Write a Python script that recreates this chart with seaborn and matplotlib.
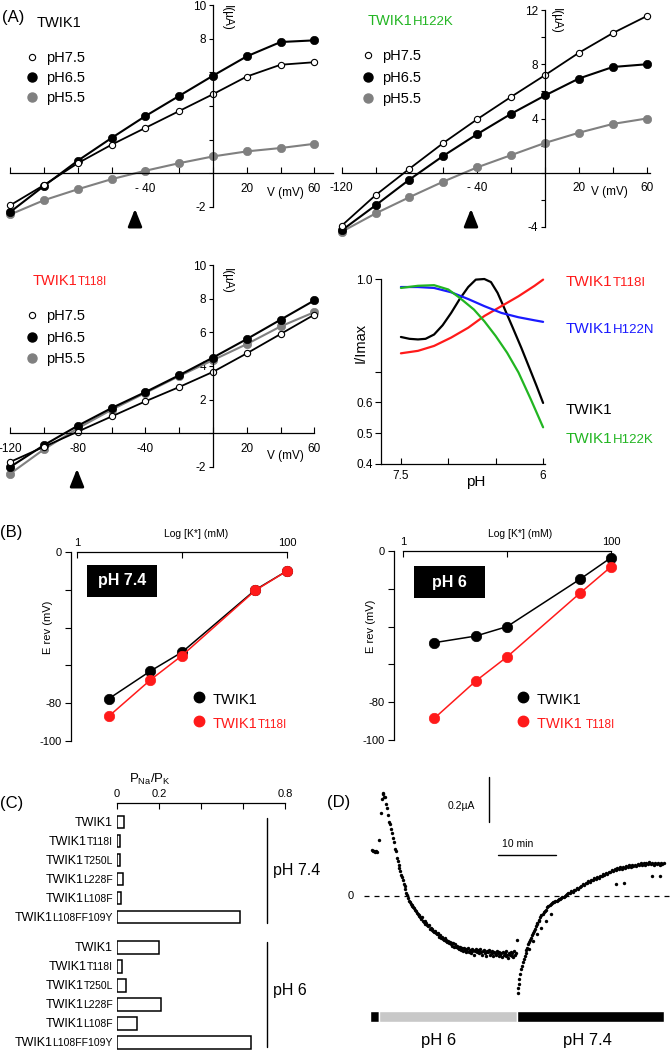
import numpy as np
import matplotlib
matplotlib.use('Agg')
import matplotlib.pyplot as plt
import seaborn as sns
from matplotlib.lines import Line2D
from matplotlib.patches import Rectangle, FancyArrowPatch
from matplotlib.ticker import NullLocator

sns.set_style('ticks', {'axes.edgecolor': 'black', 'text.color': 'black',
                        'xtick.color': 'black', 'ytick.color': 'black',
                        'axes.labelcolor': 'black'})
plt.rcParams['font.family'] = ['Liberation Sans', 'DejaVu Sans']
plt.rcParams['mathtext.fontset'] = 'custom'
plt.rcParams['mathtext.rm'] = 'Liberation Sans'
plt.rcParams['axes.linewidth'] = 0.9

GREY = '#808080'
RED = '#ff1a1a'
BLUE = '#1a1aff'
GREEN = '#22b522'

# ---- panel A : I/V curves (uA) ----
volt = [-120, -100, -80, -60, -40, -20, 0, 20, 40, 60]

wt_75 = [-1.9, -0.7, 0.6, 1.7, 2.7, 3.7, 4.7, 5.75, 6.45, 6.6]
wt_65 = [-2.3, -0.75, 0.75, 2.1, 3.4, 4.6, 5.8, 6.95, 7.8, 7.9]
wt_55 = [-2.45, -1.6, -0.95, -0.35, 0.15, 0.6, 1.0, 1.3, 1.5, 1.75]

hk_75 = [-3.9, -1.65, 0.3, 2.2, 3.95, 5.6, 7.2, 8.85, 10.3, 11.55]
hk_65 = [-4.25, -2.4, -0.5, 1.25, 2.85, 4.35, 5.7, 6.95, 7.8, 8.0]
hk_55 = [-4.35, -3.0, -1.8, -0.65, 0.4, 1.3, 2.2, 2.95, 3.6, 4.0]

ti_75 = [-1.7, -0.8, 0.1, 1.0, 1.9, 2.75, 3.65, 4.75, 5.9, 7.05]
ti_65 = [-2.0, -0.7, 0.45, 1.5, 2.45, 3.45, 4.5, 5.6, 6.75, 7.9]
ti_55 = [-2.4, -0.95, 0.3, 1.4, 2.4, 3.4, 4.35, 5.3, 6.35, 7.2]

# ---- panel A : I/Imax vs pH ----
ph_wt = [7.5, 7.41, 7.32, 7.24, 7.15, 7.06, 6.97, 6.88, 6.79, 6.71, 6.62, 6.55,
         6.48, 6.41, 6.32, 6.23, 6.14, 6.07, 6.0]
imax_wt = [0.812, 0.806, 0.804, 0.806, 0.82, 0.85, 0.89, 0.935, 0.974, 0.998, 1.0,
           0.99, 0.955, 0.906, 0.842, 0.777, 0.708, 0.654, 0.598]
ph_grid = [7.5, 7.32, 7.15, 6.97, 6.79, 6.62, 6.44, 6.26, 6.09, 6.0]
imax_t118i = [0.759, 0.767, 0.783, 0.81, 0.842, 0.88, 0.912, 0.944, 0.978, 0.998]
imax_h122n = [0.974, 0.974, 0.971, 0.957, 0.935, 0.912, 0.89, 0.876, 0.866, 0.861]
ph_hk = [7.5, 7.32, 7.15, 7.0, 6.88, 6.73, 6.62, 6.5, 6.38, 6.26, 6.13, 6.0]
imax_h122k = [0.971, 0.978, 0.98, 0.966, 0.939, 0.901, 0.863, 0.815, 0.761, 0.697, 0.61, 0.519]

# ---- panel B : reversal potential vs [K+] ----
k_conc = [2, 5, 10, 50, 100]
erev74_wt = [-77.7, -63, -53, -20, -10]
erev74_ti = [-87, -67.7, -54.8, -20.3, -10]
erev6_wt = [-48.5, -45, -40, -15, -3.5]
erev6_ti = [-88.5, -68.8, -56, -22.4, -8.3]

# ---- panel C : PNa/PK ----
mutants = [('TWIK1', ''), ('TWIK1', 'T118I'), ('TWIK1', 'T250L'), ('TWIK1', 'L228F'),
           ('TWIK1', 'L108F'), ('TWIK1', 'L108FF109Y')]
pnapk_74 = [0.032, 0.013, 0.013, 0.029, 0.02, 0.588]
pnapk_6 = [0.2, 0.022, 0.045, 0.21, 0.095, 0.64]

# ---- panel D : current trace (min, uA) ----
trace_t = ([0.1, 0.3, 0.5, 0.7, 0.9, 1.1, 1.4, 1.7, 1.9, 2.0,
            2.1, 2.2, 2.4, 2.6, 2.8, 2.95, 3.1, 3.3, 3.45, 3.6,
            3.75, 3.9, 4.1, 4.3, 4.45, 4.6, 4.75, 4.9, 5.05, 5.2,
            5.35, 5.5, 5.65, 5.8, 5.95, 6.1, 6.25, 6.4, 6.55, 6.7,
            6.85, 7.0, 7.15, 7.3, 7.45, 7.6, 7.75, 7.9, 8.05, 8.2,
            8.35, 8.5, 8.65, 8.8, 8.95, 9.1, 9.25, 9.4, 9.55, 9.7,
            9.85, 10.0, 10.15, 10.3, 10.45, 10.6, 10.75, 10.9, 11.05, 11.2,
            11.35, 11.5, 11.65, 11.8, 11.95, 12.1, 12.25, 12.4, 12.55, 12.7,
            12.85, 13.0, 13.15, 13.3, 13.45, 13.6, 13.75, 13.9, 14.05, 14.2,
            14.35, 14.5, 14.65, 14.8, 14.95, 15.1, 15.25, 15.4, 15.55, 15.7]
           + [15.85, 16.0, 16.15, 16.3, 16.45, 16.6, 16.75, 16.9, 17.05, 17.2,
              17.35, 17.5, 17.65, 17.8, 17.95, 18.1, 18.25, 18.4, 18.55, 18.7,
              18.85, 19.0, 19.15, 19.3, 19.45, 19.6, 19.75, 19.9, 20.05, 20.2,
              20.35, 20.5, 20.65, 20.8, 20.95, 21.1, 21.25, 21.4, 21.55, 21.7,
              21.85, 22.0, 22.15, 22.3, 22.45, 22.6, 22.75, 22.9, 23.05, 23.2,
              23.35, 23.5, 23.65, 23.8, 23.95, 24.1, 24.25, 24.4, 24.55, 24.7,
              24.85, 25.0]
           + [25.2, 25.3, 25.4, 25.5, 25.6, 25.7, 25.85, 26.0, 26.15, 26.3,
              26.5, 26.65, 26.8, 26.95, 27.1, 27.3, 27.45, 27.6, 27.75, 27.9,
              28.1, 28.25, 28.4, 28.55, 28.7, 28.9, 29.05, 29.2, 29.4, 29.6,
              29.8, 30.0, 30.2, 30.4, 30.6, 30.8, 31.0, 31.2, 31.4, 31.6,
              31.8, 32.0, 32.2, 32.4, 32.6, 32.8, 33.0, 33.2, 33.4, 33.6,
              33.8, 34.0, 27.3, 27.9, 28.6, 29.3, 30.1, 31.0]
           + [34.25, 34.5, 34.75, 35.0, 35.25, 35.5, 35.75, 36.0, 36.25, 36.5,
              36.75, 37.0, 37.25, 37.5, 37.75, 38.0, 38.25, 38.5, 38.75, 39.0,
              39.25, 39.5, 39.75, 40.0, 40.25, 40.5, 40.75, 41.0, 41.25, 41.5,
              41.75, 42.0, 42.25, 42.5, 42.75, 43.0, 43.25, 43.5, 43.75, 44.0,
              44.25, 44.5, 44.75, 45.0, 45.25, 45.5, 45.75, 46.0, 46.25, 46.5,
              46.75, 47.0, 47.25, 47.5, 47.75, 48.0, 48.25, 48.5, 48.75, 49.0,
              49.25, 49.5, 49.75, 50.0, 50.25, 50.5, 42.3, 43.7, 48.5, 49.9])
trace_i = ([0.205, 0.198, 0.202, 0.195, 0.2, 0.197, 0.25, 0.37, 0.43, 0.46,
            0.455, 0.44, 0.44, 0.41, 0.39, 0.36, 0.33, 0.32, 0.3, 0.28,
            0.26, 0.24, 0.21, 0.2, 0.17, 0.155, 0.14, 0.125, 0.11, 0.095,
            0.085, 0.07, 0.055, 0.045, 0.03, 0.015, 0.005, -0.01, -0.02, -0.025,
            -0.035, -0.04, -0.045, -0.05, -0.055, -0.06, -0.065, -0.075, -0.08, -0.085,
            -0.09, -0.095, -0.1, -0.095, -0.11, -0.115, -0.11, -0.125, -0.12, -0.13,
            -0.135, -0.13, -0.145, -0.14, -0.15, -0.145, -0.155, -0.16, -0.155, -0.165,
            -0.17, -0.165, -0.175, -0.18, -0.175, -0.185, -0.18, -0.19, -0.195, -0.185,
            -0.2, -0.195, -0.205, -0.2, -0.21, -0.205, -0.215, -0.21, -0.22, -0.21,
            -0.225, -0.215, -0.225, -0.22, -0.23, -0.225, -0.235, -0.225, -0.24, -0.23]
           + [-0.245, -0.23, -0.24, -0.25, -0.235, -0.245, -0.23, -0.25, -0.24, -0.255,
              -0.235, -0.245, -0.24, -0.26, -0.245, -0.235, -0.25, -0.24, -0.255, -0.245,
              -0.235, -0.25, -0.26, -0.245, -0.24, -0.255, -0.25, -0.265, -0.245, -0.25,
              -0.24, -0.26, -0.25, -0.255, -0.245, -0.265, -0.25, -0.255, -0.26, -0.245,
              -0.255, -0.265, -0.25, -0.26, -0.255, -0.27, -0.25, -0.26, -0.255, -0.265,
              -0.245, -0.26, -0.275, -0.255, -0.26, -0.25, -0.265, -0.255, -0.27, -0.245,
              -0.26, -0.255]
           + [-0.195, -0.43, -0.41, -0.39, -0.37, -0.345, -0.325, -0.31, -0.295, -0.28,
              -0.265, -0.255, -0.24, -0.23, -0.215, -0.205, -0.195, -0.185, -0.175, -0.165,
              -0.155, -0.145, -0.135, -0.125, -0.12, -0.11, -0.105, -0.095, -0.085, -0.08,
              -0.07, -0.065, -0.06, -0.05, -0.045, -0.04, -0.035, -0.03, -0.028, -0.025,
              -0.022, -0.02, -0.018, -0.015, -0.012, -0.008, -0.006, -0.003, 0.0, 0.004,
              0.008, 0.012, -0.235, -0.2, -0.17, -0.14, -0.11, -0.08]
           + [0.015, 0.022, 0.018, 0.028, 0.025, 0.035, 0.03, 0.042, 0.045, 0.052,
              0.05, 0.06, 0.058, 0.066, 0.062, 0.072, 0.07, 0.078, 0.075, 0.085,
              0.082, 0.09, 0.088, 0.097, 0.094, 0.102, 0.1, 0.108, 0.105, 0.114,
              0.11, 0.12, 0.116, 0.125, 0.12, 0.128, 0.122, 0.13, 0.126, 0.133,
              0.128, 0.136, 0.13, 0.138, 0.133, 0.14, 0.135, 0.143, 0.137, 0.145,
              0.138, 0.146, 0.14, 0.148, 0.142, 0.15, 0.141, 0.147, 0.14, 0.149,
              0.143, 0.146, 0.139, 0.148, 0.142, 0.145, 0.055, 0.06, 0.09, 0.09])
phase_start = [-0.2, 1.4, 25.2]
phase_end = [1.4, 25.2, 50.5]
phase_color = ['black', '#c8c8c8', 'black']

# ---------------------------------------------------------------
W, H = 672, 1050
fig = plt.figure(figsize=(W / 100, H / 100), dpi=100)
renderer = fig.canvas.get_renderer()


def fx(px):
    return px / W


def fy(py):
    return 1 - py / H


def px_axes(x0, y0, x1, y1):
    ax = fig.add_axes([fx(x0), fy(y1), (x1 - x0) / W, (y1 - y0) / H])
    ax.patch.set_alpha(0)
    return ax


def ftext(px, py, s, **kw):
    kw.setdefault('va', 'baseline')
    return fig.text(fx(px), fy(py), s, **kw)


def two_part(px, py, main, sub, size=10, subsize=8, color='black', ha='left'):
    if ha == 'left':
        t = ftext(px, py, main, fontsize=size, color=color)
        bb = t.get_window_extent(renderer)
        if sub:
            ftext(bb.x1, py, sub, fontsize=subsize, color=color)
    else:
        if sub:
            t = ftext(px, py, sub, fontsize=subsize, color=color, ha='right')
            px = t.get_window_extent(renderer).x0
        ftext(px, py, main, fontsize=size, color=color, ha='right')


def fmark(px, py, **kw):
    fig.add_artist(Line2D([fx(px)], [fy(py)], transform=fig.transFigure,
                          linestyle='none', marker='o', **kw))


def arrow_up(px, tip, tail):
    fig.add_artist(FancyArrowPatch((fx(px), fy(tail)), (fx(px), fy(tip)),
                                   transform=fig.transFigure,
                                   arrowstyle='-|>,head_length=0.7,head_width=0.28',
                                   mutation_scale=15, color='black', lw=2))


def ph_legend(px, rows):
    styles = [dict(markersize=4.5, markerfacecolor='white', markeredgecolor='black', markeredgewidth=0.8),
              dict(markersize=6.5, markerfacecolor='black', markeredgecolor='black'),
              dict(markersize=6.5, markerfacecolor=GREY, markeredgecolor=GREY)]
    for py, lab, st in zip(rows, ['pH7.5', 'pH6.5', 'pH5.5'], styles):
        fmark(px, py, **st)
        ftext(px + 14, py + 5, lab, fontsize=10.5)


def iv_panel(box, xlim, ylim, yb, yticks, ylabels, xlabels, xb, y75, y65, y55):
    ax = px_axes(*box)
    sns.lineplot(x=volt, y=y55, ax=ax, color=GREY, linewidth=1.5, marker='o', markersize=6,
                 markerfacecolor=GREY, markeredgecolor=GREY, markeredgewidth=0.5, clip_on=False)
    sns.lineplot(x=volt, y=y65, ax=ax, color='black', linewidth=1.5, marker='o', markersize=6,
                 markerfacecolor='black', markeredgecolor='black', markeredgewidth=0.5, clip_on=False)
    sns.lineplot(x=volt, y=y75, ax=ax, color='black', linewidth=1.3, marker='o', markersize=4.5,
                 markerfacecolor='white', markeredgecolor='black', markeredgewidth=0.8, clip_on=False)
    ax.set_xlim(xlim)
    ax.set_ylim(ylim)
    ax.spines[['top', 'right']].set_visible(False)
    ax.spines['left'].set_position(('data', 0))
    ax.spines['bottom'].set_position(('data', 0))
    ax.spines['left'].set_bounds(*yb)
    ax.spines['bottom'].set_bounds(*xb)
    ax.set_xticks(volt)
    ax.set_xticklabels(xlabels)
    ax.set_yticks(yticks)
    ax.set_yticklabels(ylabels)
    ax.tick_params(axis='x', direction='in', length=4, width=0.8, pad=7, labelsize=8.5)
    ax.tick_params(axis='y', direction='out', length=3, width=0.8, pad=2, labelsize=8.5)
    ax.set_xlabel('')
    ax.set_ylabel('')
    return ax


# A1 TWIK1
iv_panel((2, 3, 335, 217), (-124.9, 72.2), (-2.6, 10.12), (-2, 10),
         [-2, 0, 2, 4, 6, 8, 10], ['-2', '', '', '', '', '8', '10'],
         ['', '', '', '', '- 40', '', '', '20', '', '60'], (-120, 71),
         wt_75, wt_65, wt_55)
ftext(2, 22, '(A)', fontsize=12)
ftext(37, 27, 'TWIK1', fontsize=10.5)
ph_legend(32, [57, 77, 97])
ftext(227, 5, 'I(µA)', fontsize=8.5, rotation=270, va='top', ha='center')
ftext(285, 196, 'V (mV)', fontsize=8.5, ha='center')
arrow_up(135, 206, 223)

# A2 TWIK1 H122K
iv_panel((338, 8, 665, 232), (-122.2, 70.8), (-4.37, 12.15), (-4, 12),
         [-4, -2, 0, 2, 4, 6, 8, 10, 12], ['-4', '', '', '', '4', '', '8', '', '12'],
         ['-120', '', '', '', '- 40', '', '', '20', '', '60'], (-120, 62),
         hk_75, hk_65, hk_55)
two_part(368, 25, 'TWIK1', 'H122K', size=10.5, subsize=9.5, color=GREEN)
ph_legend(368, [55, 77, 98])
ftext(556, 8, 'I(µA)', fontsize=8.5, rotation=270, va='top', ha='center')
ftext(609, 195, 'V (mV)', fontsize=8.5, ha='center')
arrow_up(471, 206, 223)

# A3 TWIK1 T118I
iv_panel((2, 263, 335, 475), (-124.9, 72.2), (-2.48, 10.12), (-2, 10),
         [-2, 0, 2, 4, 6, 8, 10], ['-2', '', '2', '4', '6', '8', '10'],
         ['-120', '', '-80', '', '-40', '', '', '20', '', '60'], (-120, 60),
         ti_75, ti_65, ti_55)
two_part(33, 285, 'TWIK1', 'T118I', size=10.5, subsize=8.5, color=RED)
ph_legend(32, [315, 337, 358])
ftext(227, 268, 'I(µA)', fontsize=8.5, rotation=270, va='top', ha='center')
ftext(285, 459, 'V (mV)', fontsize=8.5, ha='center')
arrow_up(77, 466, 488)

# A4 I/Imax vs pH
ax = px_axes(381, 275, 545, 464)
sns.lineplot(x=ph_wt, y=imax_wt, ax=ax, color='black', linewidth=1.6)
sns.lineplot(x=ph_grid, y=imax_t118i, ax=ax, color=RED, linewidth=1.6)
sns.lineplot(x=ph_grid, y=imax_h122n, ax=ax, color=BLUE, linewidth=1.6)
sns.lineplot(x=ph_hk, y=imax_h122k, ax=ax, color=GREEN, linewidth=1.6)
ax.set_xlim(7.71, 5.98)
ax.set_ylim(0.4, 1.013)
ax.spines[['top', 'right']].set_visible(False)
ax.spines['left'].set_bounds(0.4, 1.0)
ax.set_xticks([7.5, 7.0, 6.5, 6.0])
ax.set_xticklabels(['7.5', '', '', '6'])
ax.set_yticks([0.4, 0.5, 0.6, 0.7, 1.0])
ax.set_yticklabels(['0.4', '0.5', '0.6', '', '1.0'])
ax.tick_params(axis='x', direction='in', length=4, width=0.8, pad=4, labelsize=8.5)
ax.tick_params(axis='y', direction='out', length=4, width=0.8, pad=2, labelsize=8.5)
ax.set_xlabel('')
ax.set_ylabel('')
ftext(361, 343, 'I/Imax', fontsize=10.5, rotation=90, va='center', ha='center')
ftext(476, 486, 'pH', fontsize=11, ha='center')
two_part(566, 286, 'TWIK1', 'T118I', size=11, subsize=9.5, color=RED)
two_part(566, 333, 'TWIK1', 'H122N', size=11, subsize=9.5, color=BLUE)
ftext(566, 414, 'TWIK1', fontsize=11)
two_part(566, 443, 'TWIK1', 'H122K', size=11, subsize=9.5, color=GREEN)


# B panels
def erev_panel(box, xlim, wt, ti, boxrect, boxlabel, legx, sub):
    ax = px_axes(*box)
    sns.lineplot(x=k_conc, y=wt, ax=ax, color='black', linewidth=1.1, marker='o', markersize=7.5,
                 markerfacecolor='black', markeredgecolor='black', markeredgewidth=0.5, clip_on=False)
    sns.lineplot(x=k_conc, y=ti, ax=ax, color=RED, linewidth=1.1, marker='o', markersize=7.5,
                 markerfacecolor=RED, markeredgecolor=RED, markeredgewidth=0.5, clip_on=False)
    ax.set_xscale('log')
    ax.set_xlim(xlim)
    ax.set_ylim(-100, 0)
    ax.spines[['bottom', 'right']].set_visible(False)
    ax.spines['top'].set_bounds(1, 100)
    ax.xaxis.tick_top()
    ax.set_xticks([1, 10, 100])
    ax.set_xticklabels(['1', '', '100'])
    ax.xaxis.set_minor_locator(NullLocator())
    ax.set_yticks([-100, -80, -60, -40, -20, 0])
    ax.set_yticklabels(['-100', '-80', '', '', '', '0'])
    ax.tick_params(axis='x', direction='in', length=4, width=0.8, pad=3, labelsize=8)
    ax.tick_params(axis='y', direction='out', length=4, width=0.8, pad=3, labelsize=8)
    ax.set_xlabel('')
    ax.set_ylabel('')
    x0, y0, x1, y1 = boxrect
    fig.add_artist(Rectangle((fx(x0), fy(y1)), (x1 - x0) / W, (y1 - y0) / H,
                             transform=fig.transFigure, facecolor='black', edgecolor='none'))
    ftext((x0 + x1) / 2, (y0 + y1) / 2, boxlabel, fontsize=11.5, fontweight='bold',
          color='white', ha='center', va='center')
    fmark(legx, 697, markersize=7.5, color='black')
    fmark(legx, 721, markersize=7.5, color=RED)
    ftext(legx + 14, 704, 'TWIK1', fontsize=10.5)
    two_part(legx + 14, 728, 'TWIK1' + sub, 'T118I', size=10.5, subsize=8.5, color=RED)
    ymid = box[1] + 75
    ftext(box[0] - 23, ymid, 'E rev (mV)', fontsize=8, rotation=90, va='center', ha='center')
    ftext((box[0] + box[2]) / 2 + 16, 537, 'Log [K*] (mM)', fontsize=7.5, ha='center')


erev_panel((71, 552, 290, 741), (0.877, 106.8), erev74_wt, erev74_ti,
           (87, 565, 157, 597), 'pH 7.4', 199, '')
erev_panel((394, 551, 615, 740), (0.819, 109), erev6_wt, erev6_ti,
           (414, 566, 485, 598), 'pH 6', 523, ' ')
ftext(0, 537, '(B)', fontsize=12)

# C : PNa/PK bars
rows = np.arange(6)
pos74 = rows
pos6 = rows + 6.6
ax = px_axes(117, 803, 285, 1050)
ax.barh(pos74, pnapk_74, height=0.68, color='white', edgecolor='black', linewidth=1.1)
ax.barh(pos6, pnapk_6, height=0.68, color='white', edgecolor='black', linewidth=1.1)
ax.set_xlim(0, 0.8)
ax.set_ylim(12.0, -1.0)
ax.spines[['bottom', 'right', 'left']].set_visible(False)
ax.xaxis.tick_top()
ax.set_xticks([0, 0.2, 0.4, 0.6, 0.8])
ax.set_xticklabels(['0', '0.2', '', '', '0.8'])
ax.set_yticks([])
ax.tick_params(axis='x', direction='in', length=4, width=0.8, pad=3, labelsize=8)
for group in (pos74, pos6):
    for p, (main, sub) in zip(group, mutants):
        two_part(113, 822 + p * 19 + 4, main, sub, size=9, subsize=7.5, ha='right')
fig.add_artist(Line2D([fx(267), fx(267)], [fy(818), fy(923)], transform=fig.transFigure,
                      color='black', lw=1))
fig.add_artist(Line2D([fx(267), fx(267)], [fy(942), fy(1047)], transform=fig.transFigure,
                      color='black', lw=1))
ftext(273, 875, 'pH 7.4', fontsize=11.5)
ftext(273, 995, 'pH 6', fontsize=11.5)
ftext(150, 783, r'P$_{\mathrm{Na}}$/P$_{\mathrm{K}}$', fontsize=9.5, ha='center')
ftext(0, 808, '(C)', fontsize=12)

# D : current trace
ax = px_axes(336, 770, 672, 1050)
sns.scatterplot(x=trace_t, y=trace_i, ax=ax, s=6, color='black', edgecolor=None, linewidth=0)
ax.set_xlim(-6.03, 51.9)
ax.set_ylim(-0.684, 0.56)
ax.axis('off')
ax.plot([-1.2, 51.9], [0, 0], color='black', lw=0.9, dashes=(4, 4))
ax.text(-3.45, 0, '0', fontsize=8, ha='center', va='center')
ax.plot([20.34, 20.34], [0.329, 0.529], color='black', lw=1)
ax.text(15.5, 0.4, '0.2µA', fontsize=7.5, ha='center', va='center')
ax.plot([21.9, 31.9], [0.182, 0.182], color='black', lw=1)
ax.text(25.3, 0.231, '10 min', fontsize=7.5, ha='center', va='center')
ax.barh([-0.536] * 3, np.subtract(phase_end, phase_start), left=phase_start,
        height=0.049, color=phase_color)
ax.text(11.7, -0.64, 'pH 6', fontsize=12, ha='center', va='center')
ax.text(37.4, -0.64, 'pH 7.4', fontsize=12, ha='center', va='center')
ftext(327, 807, '(D)', fontsize=12)

fig.savefig('out.png', dpi=100)
